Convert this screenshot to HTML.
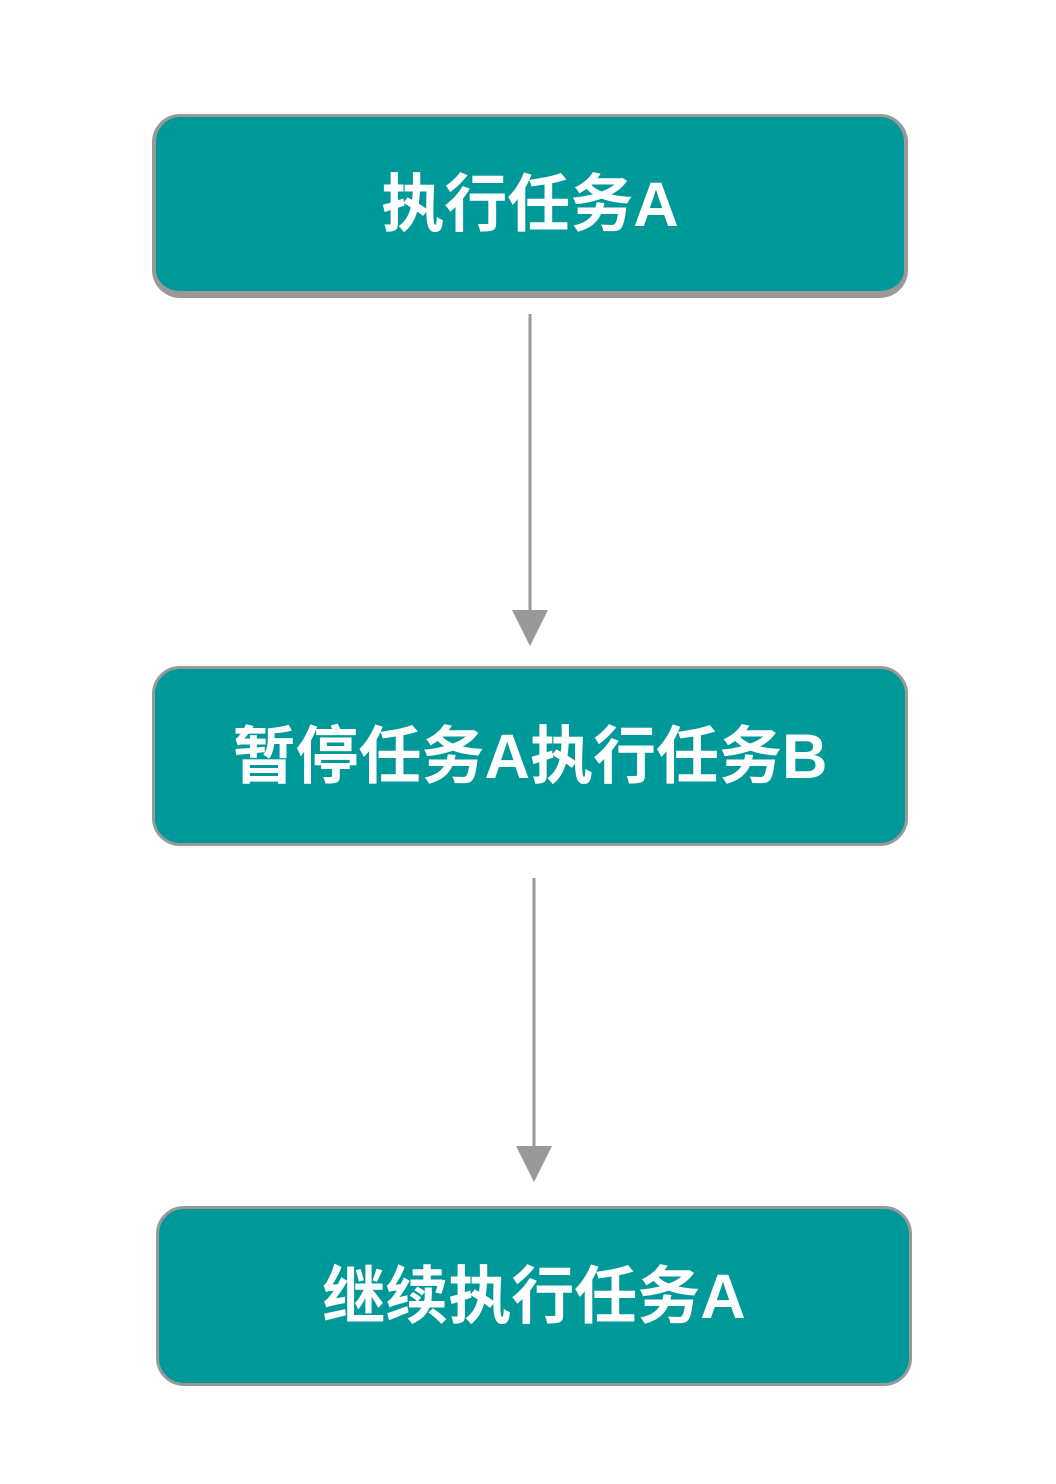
<!DOCTYPE html>
<html><head><meta charset="utf-8"><style>
html,body{margin:0;padding:0;background:#fff;}
body{width:1056px;height:1484px;position:relative;overflow:hidden;}
.b{position:absolute;box-sizing:border-box;background:#009999;border:3px solid #999;border-radius:28px;color:#fff;display:flex;align-items:center;justify-content:center;font-family:"Liberation Sans","Noto Sans CJK SC",sans-serif;font-weight:bold;font-size:63px;padding-bottom:10px;}
</style></head><body>
<div class="b" style="left:152px;top:114px;width:756px;height:184px;border-width:3px 4px 7px 4px;">执行任务A</div>
<div class="b" style="left:152px;top:666px;width:756px;height:180px;">暂停任务A执行任务B</div>
<div class="b" style="left:156px;top:1206px;width:756px;height:180px;">继续执行任务A</div>
<svg width="1056" height="1484" style="position:absolute;left:0;top:0">
<line x1="530" y1="314" x2="530" y2="612" stroke="#999" stroke-width="3"/>
<polygon points="512,610 548,610 530,646" fill="#999"/>
<line x1="534" y1="878" x2="534" y2="1148" stroke="#999" stroke-width="3"/>
<polygon points="516,1146 552,1146 534,1182" fill="#999"/>
</svg>
</body></html>
